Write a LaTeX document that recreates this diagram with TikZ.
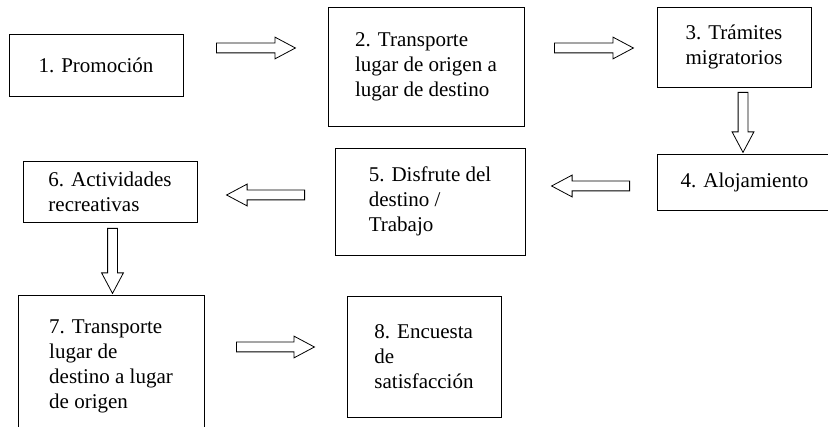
\documentclass[tikz,border=0pt]{standalone}
\usepackage{fontspec}
\setmainfont{Liberation Serif}
\usetikzlibrary{shapes.arrows}

\tikzset{
  stepbox/.style={draw, line width=0.9pt, align=left, inner sep=0pt,
    font=\fontsize{21}{25}\selectfont},
  flecha/.style={draw, line width=0.8pt, single arrow, inner sep=0pt,
    text height=4.5pt, text depth=4.5pt, text width=9pt,
    single arrow head extend=6pt, single arrow tip angle=56, anchor=tail},
}

\begin{document}
\begin{tikzpicture}[x=1pt, y=-1pt]
    \useasboundingbox (0,0) rectangle (828,427);
    \clip (0,0) rectangle (828,427);
    % cajas
    \node[stepbox, minimum width=174pt, minimum height=62pt] (p1) at (96,65) {1. Promoción};
    \node[stepbox, minimum width=196pt, minimum height=119pt] (p2) at (426,66.5)
        {2. Transporte\\lugar de origen a\\lugar de destino};
    \node[stepbox, minimum width=154pt, minimum height=80pt] (p3) at (734,47)
        {3. Trámites\\migratorios};
    \node[stepbox, minimum width=175pt, minimum height=56pt] (p4) at (744.5,182)
        {4. Alojamiento};
    \node[stepbox, minimum width=190pt, minimum height=107pt] (p5) at (430,201.5)
        {5. Disfrute del\\destino /\\Trabajo};
    \node[stepbox, minimum width=174pt, minimum height=61pt] (p6) at (110,191.5)
        {6. Actividades\\recreativas};
    \node[stepbox, minimum width=186pt, minimum height=143pt] (p7) at (111,366.5)
        {7. Transporte\\lugar de\\destino a lugar\\de origen};
    \node[stepbox, minimum width=154pt, minimum height=121pt] (p8) at (424,356.5)
        {8. Encuesta\\de\\satisfacción};
    % flechas
    \node[flecha, minimum height=79pt] (a12) at (216,48) {};
    \node[flecha, minimum height=79pt] (a23) at (554,48) {};
    \node[flecha, minimum height=60pt, shape border rotate=270] (a34) at (743,92) {};
    \node[flecha, minimum height=78pt, shape border rotate=180] (a45) at (630,186) {};
    \node[flecha, minimum height=78pt, shape border rotate=180] (a56) at (305,195) {};
    \node[flecha, minimum height=65pt, shape border rotate=270] (a67) at (112.5,228) {};
    \node[flecha, minimum height=78pt] (a78) at (236,347) {};
\end{tikzpicture}
\end{document}
